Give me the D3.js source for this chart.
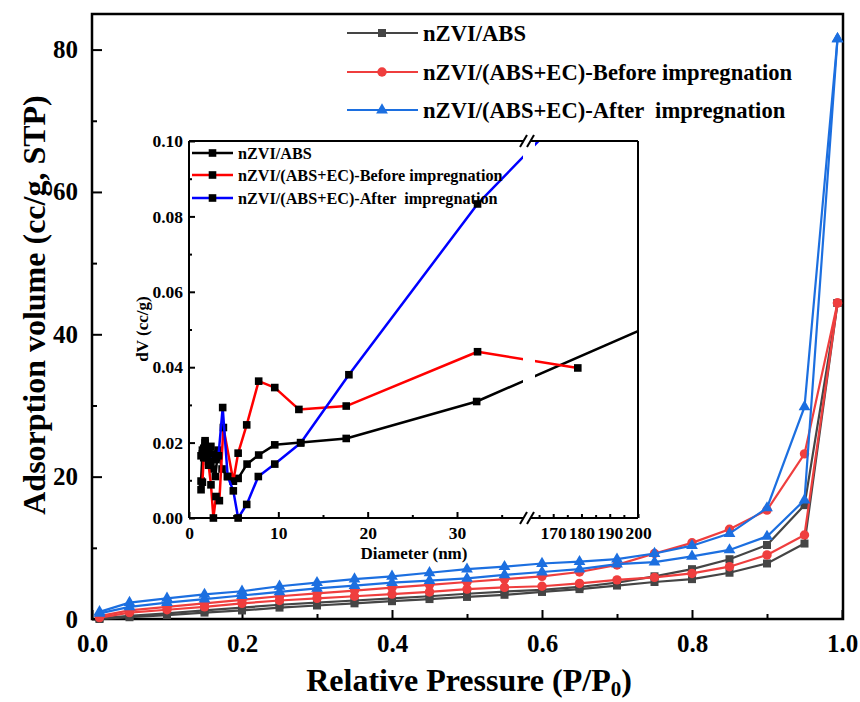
<!DOCTYPE html>
<html>
<head>
<meta charset="utf-8">
<script src="https://cdn.jsdelivr.net/npm/d3@7/dist/d3.min.js"></script>
<style>
  html, body { margin: 0; padding: 0; background: #fff; }
</style>
</head>
<body>
<svg id="chart" width="860" height="702" style="font-family: 'Liberation Serif', 'Times New Roman', 'DejaVu Serif', serif; font-weight: bold;"></svg>
<script>
// main isotherm data (relative pressure vs adsorbed volume)
var pressure = [0.01, 0.05, 0.10, 0.15, 0.20, 0.25, 0.30, 0.35, 0.40, 0.45, 0.50,
                0.55, 0.60, 0.65, 0.70, 0.75, 0.80, 0.85, 0.90, 0.95, 0.994];

var absAds = [0.0, 0.25, 0.55, 0.9, 1.2, 1.6, 1.9, 2.2, 2.5, 2.8, 3.1, 3.4, 3.8, 4.2, 4.7, 5.2, 5.6, 6.5, 7.8, 10.6, 44.4];
var absDes = [0.1, 0.45, 0.8, 1.2, 1.6, 2.0, 2.3, 2.6, 2.9, 3.2, 3.55, 3.85, 4.1, 4.5, 5.1, 6.0, 7.0, 8.4, 10.4, 16.0, 44.4];
var beforeAds = [0.2, 0.9, 1.3, 1.7, 2.2, 2.6, 2.9, 3.2, 3.5, 3.8, 4.2, 4.45, 4.6, 5.0, 5.5, 5.85, 6.4, 7.35, 9.0, 11.8, 44.4];
var beforeDes = [0.4, 1.2, 1.7, 2.2, 2.7, 3.2, 3.6, 4.0, 4.4, 4.8, 5.2, 5.6, 6.0, 6.6, 7.6, 9.2, 10.7, 12.6, 15.3, 23.2, 44.4];
var afterAds = [0.8, 1.7, 2.3, 2.8, 3.3, 3.8, 4.3, 4.7, 5.1, 5.4, 5.7, 6.2, 6.6, 7.0, 7.7, 8.0, 8.8, 9.7, 11.6, 16.7, 81.5];
var afterDes = [1.0, 2.3, 2.9, 3.45, 3.9, 4.6, 5.1, 5.6, 6.0, 6.5, 7.0, 7.35, 7.8, 8.05, 8.4, 9.2, 10.3, 12.0, 15.6, 29.8, 81.5];

var seriesNames = ['nZVI/ABS', 'nZVI/(ABS+EC)-Before impregnation', 'nZVI/(ABS+EC)-After  impregnation'];

var xTicks = [0, 0.2, 0.4, 0.6, 0.8, 1.0];
var xMinorTicks = [0.1, 0.3, 0.5, 0.7, 0.9];
var yTicks = [0, 20, 40, 60, 80];
var yMinorTicks = [10, 30, 50, 70];

// inset pore size distribution (diameter nm, dV cc/g)
var absDiameter = [1.35, 1.5, 1.65, 1.8, 2.0, 2.2, 2.45, 2.7, 2.95, 3.25, 3.7, 4.3, 4.96, 5.5, 6.5, 7.8, 9.6, 12.5, 17.6, 32.2, 215];
var absDV = [0.0098, 0.0170, 0.0185, 0.0205, 0.0185, 0.0150, 0.0190, 0.0130, 0.0110, 0.0180, 0.0130, 0.0110, 0.0098, 0.0105, 0.0143, 0.0167, 0.0194, 0.0200, 0.0211, 0.0309, 0.0545];
var beforeDiameter = [1.35, 1.5, 1.65, 1.8, 2.0, 2.2, 2.46, 2.73, 3.02, 3.4, 3.85, 4.96, 5.5, 6.46, 7.8, 9.6, 12.3, 17.6, 32.3, 178.7];
var beforeDV = [0.0075, 0.0095, 0.0160, 0.0200, 0.0175, 0.0140, 0.0088, 0.0, 0.0057, 0.0046, 0.0240, 0.0098, 0.0172, 0.0247, 0.0363, 0.0346, 0.0288, 0.0297, 0.0441, 0.0398];
var afterDiameter = [1.35, 1.5, 1.65, 1.8, 2.0, 2.2, 2.45, 2.7, 3.0, 3.3, 3.77, 4.33, 4.96, 5.5, 6.46, 7.76, 9.6, 12.5, 17.9, 32.3, 179];
var afterDV = [0.0165, 0.0180, 0.0170, 0.0190, 0.0160, 0.0175, 0.0150, 0.0170, 0.0155, 0.0165, 0.0293, 0.0110, 0.0072, 0.0, 0.0036, 0.0110, 0.0143, 0.0199, 0.0380, 0.0833, 0.111];

var insetXTicksLow = [0, 10, 20, 30];
var insetXMinorLow = [5, 15, 25, 35];
var insetXTicksHigh = [170, 180, 190, 200];
var insetXMinorHigh = [165, 175, 185, 195];
var insetYTicks = [0, 0.02, 0.04, 0.06, 0.08, 0.10];
var insetYMinor = [0.01, 0.03, 0.05, 0.07, 0.09];

var colors = { abs: '#454545', before: '#ef3e3e', after: '#1c6fe0' };
var serif = "'Liberation Serif', 'Times New Roman', 'DejaVu Serif', serif";

var margin = { top: 14, right: 843, bottom: 619, left: 92 };

var svg = d3.select('#chart');

var x = d3.scaleLinear().domain([0, 1]).range([margin.left, 842]);
var y = d3.scaleLinear().domain([0, 85]).range([margin.bottom, margin.top]);

// axes, ticks pointing inward
function styleAxis(g, fontSize) {
    g.attr('font-family', null).attr('font-size', null);
    g.select('.domain').remove();
    g.selectAll('line').attr('stroke', '#000').attr('stroke-width', 2);
    g.selectAll('text')
        .attr('fill', '#000')
        .style('font-family', serif)
        .style('font-weight', 'bold')
        .style('font-size', fontSize + 'px');
}

function label(sel, size) {
    return sel.style('font-family', serif).style('font-weight', 'bold').style('font-size', size + 'px');
}

svg.append('g')
    .attr('transform', 'translate(0,' + margin.bottom + ')')
    .call(d3.axisBottom(x).tickValues(xTicks).tickSize(-9).tickPadding(15).tickFormat(d3.format('.1f')))
    .call(styleAxis, 25);
svg.append('g')
    .attr('transform', 'translate(0,' + margin.bottom + ')')
    .call(d3.axisBottom(x).tickValues(xMinorTicks).tickSize(-5).tickFormat(''))
    .call(styleAxis, 25);
svg.append('g')
    .attr('transform', 'translate(' + margin.left + ',0)')
    .call(d3.axisLeft(y).tickValues(yTicks).tickSize(-10).tickPadding(14).tickFormat(d3.format('d')))
    .call(styleAxis, 25);
svg.append('g')
    .attr('transform', 'translate(' + margin.left + ',0)')
    .call(d3.axisLeft(y).tickValues(yMinorTicks).tickSize(-5).tickFormat(''))
    .call(styleAxis, 25);

svg.append('rect')
    .attr('x', margin.left).attr('y', margin.top)
    .attr('width', margin.right - margin.left).attr('height', margin.bottom - margin.top)
    .attr('fill', 'none').attr('stroke', '#000').attr('stroke-width', 2.5);

// axis titles
svg.append('text')
    .attr('transform', 'translate(45,305) rotate(-90)')
    .attr('text-anchor', 'middle')
    .call(label, 32)
    .text('Adsorption volume (cc/g, STP)');

var xTitle = svg.append('text')
    .attr('x', 469).attr('y', 691)
    .attr('text-anchor', 'middle')
    .call(label, 32);
xTitle.append('tspan').text('Relative Pressure (P/P');
xTitle.append('tspan').attr('dy', 5).style('font-size', '21px').text('0');
xTitle.append('tspan').attr('dy', -5).text(')');

// isotherm series
var mainSeries = [
    { key: 'abs', ads: absAds, des: absDes, shape: d3.symbolSquare, size: 64 },
    { key: 'before', ads: beforeAds, des: beforeDes, shape: d3.symbolCircle, size: 70 },
    { key: 'after', ads: afterAds, des: afterDes, shape: d3.symbolTriangle, size: 60 }
];

var mainLine = d3.line()
    .x(function(d) { return x(d[0]); })
    .y(function(d) { return y(d[1]); });

mainSeries.forEach(function(s) {
    [s.ads, s.des].forEach(function(vals) {
        var pts = pressure.map(function(p, i) { return [p, vals[i]]; });
        svg.append('path')
            .datum(pts)
            .attr('d', mainLine)
            .attr('fill', 'none')
            .attr('stroke', colors[s.key])
            .attr('stroke-width', 2.2);
        svg.selectAll(null)
            .data(pts)
            .enter().append('path')
                .attr('d', d3.symbol().type(s.shape).size(s.size))
                .attr('fill', colors[s.key])
                .attr('transform', function(d) {
                    return 'translate(' + x(d[0]) + ',' + y(d[1]) + ')';
                });
    });
});

// main legend
var legend = svg.append('g');
mainSeries.forEach(function(s, i) {
    var ly = [33, 72, 110][i];
    legend.append('line')
        .attr('x1', 347).attr('x2', 418).attr('y1', ly).attr('y2', ly)
        .attr('stroke', colors[s.key]).attr('stroke-width', 2.2);
    legend.append('path')
        .attr('d', d3.symbol().type(s.shape).size(s.size))
        .attr('transform', 'translate(382,' + ly + ')')
        .attr('fill', colors[s.key]);
    legend.append('text')
        .attr('x', 423).attr('y', ly).attr('dy', '0.35em')
        .call(label, 22.6)
        .style('white-space', 'pre')
        .text(seriesNames[i]);
});

// ---- inset: pore size distribution with broken x axis ----
var inset = { left: 189, right: 638, top: 141, bottom: 518, gapLeft: 523, gapRight: 535 };

var xLow = d3.scaleLinear().domain([0, 37.5]).range([inset.left, 524]);
var xHigh = d3.scaleLinear().domain([162.5, 200]).range([532, inset.right]);
var yIn = d3.scaleLinear().domain([0, 0.1]).range([inset.bottom, inset.top]);

function xIn(v) {
    return v < 100 ? xLow(v) : xHigh(v);
}

var ins = svg.append('g');

ins.append('rect')
    .attr('x', inset.left).attr('y', inset.top)
    .attr('width', inset.right - inset.left).attr('height', inset.bottom - inset.top)
    .attr('fill', '#fff');

var defs = svg.append('defs');
var clip = defs.append('clipPath').attr('id', 'insetClip');
clip.append('rect')
    .attr('x', inset.left).attr('y', inset.top - 6)
    .attr('width', inset.gapLeft - inset.left).attr('height', inset.bottom - inset.top + 12);
clip.append('rect')
    .attr('x', inset.gapRight).attr('y', inset.top - 6)
    .attr('width', inset.right - inset.gapRight).attr('height', inset.bottom - inset.top + 12);
var clipFrame = defs.append('clipPath').attr('id', 'insetFrameClip');
clipFrame.append('rect')
    .attr('x', inset.left - 5).attr('y', inset.top)
    .attr('width', inset.right - inset.left + 5).attr('height', inset.bottom - inset.top + 5);

ins.append('g')
    .attr('transform', 'translate(0,' + inset.bottom + ')')
    .call(d3.axisBottom(xLow).tickValues(insetXTicksLow).tickSize(-6).tickPadding(9).tickFormat(d3.format('d')))
    .call(styleAxis, 17.5);
ins.append('g')
    .attr('transform', 'translate(0,' + inset.bottom + ')')
    .call(d3.axisBottom(xLow).tickValues(insetXMinorLow).tickSize(-3).tickFormat(''))
    .call(styleAxis, 17.5);
ins.append('g')
    .attr('transform', 'translate(0,' + inset.bottom + ')')
    .call(d3.axisBottom(xHigh).tickValues(insetXTicksHigh).tickSize(-4).tickPadding(9).tickFormat(d3.format('d')))
    .call(styleAxis, 17.5);
ins.append('g')
    .attr('transform', 'translate(0,' + inset.bottom + ')')
    .call(d3.axisBottom(xHigh).tickValues(insetXMinorHigh).tickSize(-3).tickFormat(''))
    .call(styleAxis, 17.5);
ins.append('g')
    .attr('transform', 'translate(' + inset.left + ',0)')
    .call(d3.axisLeft(yIn).tickValues(insetYTicks).tickSize(-6).tickPadding(6).tickFormat(d3.format('.2f')))
    .call(styleAxis, 17.5);
ins.append('g')
    .attr('transform', 'translate(' + inset.left + ',0)')
    .call(d3.axisLeft(yIn).tickValues(insetYMinor).tickSize(-3).tickFormat(''))
    .call(styleAxis, 17.5);

var insetSeries = [
    { d: absDiameter, v: absDV, color: '#000' },
    { d: beforeDiameter, v: beforeDV, color: '#ff0000' },
    { d: afterDiameter, v: afterDV, color: '#0000ff' }
];

var insetLine = d3.line()
    .x(function(d) { return xIn(d[0]); })
    .y(function(d) { return yIn(d[1]); });

var plotArea = ins.append('g').attr('clip-path', 'url(#insetFrameClip)')
    .append('g').attr('clip-path', 'url(#insetClip)');

insetSeries.forEach(function(s) {
    var pts = s.d.map(function(dd, i) { return [dd, s.v[i]]; });
    plotArea.append('path')
        .datum(pts)
        .attr('d', insetLine)
        .attr('fill', 'none')
        .attr('stroke', s.color)
        .attr('stroke-width', 2.5)
        .attr('stroke-linejoin', 'round');
    plotArea.selectAll(null)
        .data(pts)
        .enter().append('rect')
            .attr('x', function(d) { return xIn(d[0]) - 3.8; })
            .attr('y', function(d) { return yIn(d[1]) - 3.8; })
            .attr('width', 7.6).attr('height', 7.6)
            .attr('fill', '#000');
});

// inset frame with breaks
var frame = ins.append('g').attr('stroke', '#000').attr('stroke-width', 2).attr('fill', 'none');
frame.append('line').attr('x1', inset.left).attr('x2', inset.left).attr('y1', inset.top).attr('y2', inset.bottom);
frame.append('line').attr('x1', inset.right).attr('x2', inset.right).attr('y1', inset.top).attr('y2', inset.bottom);
[inset.top, inset.bottom].forEach(function(yy) {
    frame.append('line').attr('x1', inset.left).attr('x2', 524).attr('y1', yy).attr('y2', yy);
    frame.append('line').attr('x1', 531).attr('x2', inset.right).attr('y1', yy).attr('y2', yy);
    [523.5, 530.5].forEach(function(bx) {
        frame.append('line')
            .attr('x1', bx - 3.5).attr('x2', bx + 3.5)
            .attr('y1', yy + 6).attr('y2', yy - 6);
    });
});

// inset titles
ins.append('text')
    .attr('transform', 'translate(148,329) rotate(-90)')
    .attr('text-anchor', 'middle')
    .call(label, 17)
    .text('dV (cc/g)');
ins.append('text')
    .attr('x', 414).attr('y', 559)
    .attr('text-anchor', 'middle')
    .call(label, 17)
    .text('Diameter (nm)');

// inset legend
insetSeries.forEach(function(s, i) {
    var ly = [153, 175, 198][i];
    ins.append('line')
        .attr('x1', 192).attr('x2', 233).attr('y1', ly).attr('y2', ly)
        .attr('stroke', s.color).attr('stroke-width', 2.5);
    ins.append('rect')
        .attr('x', 212.5 - 3.8).attr('y', ly - 3.8)
        .attr('width', 7.6).attr('height', 7.6)
        .attr('fill', '#000');
    ins.append('text')
        .attr('x', 238).attr('y', ly).attr('dy', '0.35em')
        .call(label, 16.2)
        .style('white-space', 'pre')
        .text(seriesNames[i]);
});
</script>
</body>
</html>
